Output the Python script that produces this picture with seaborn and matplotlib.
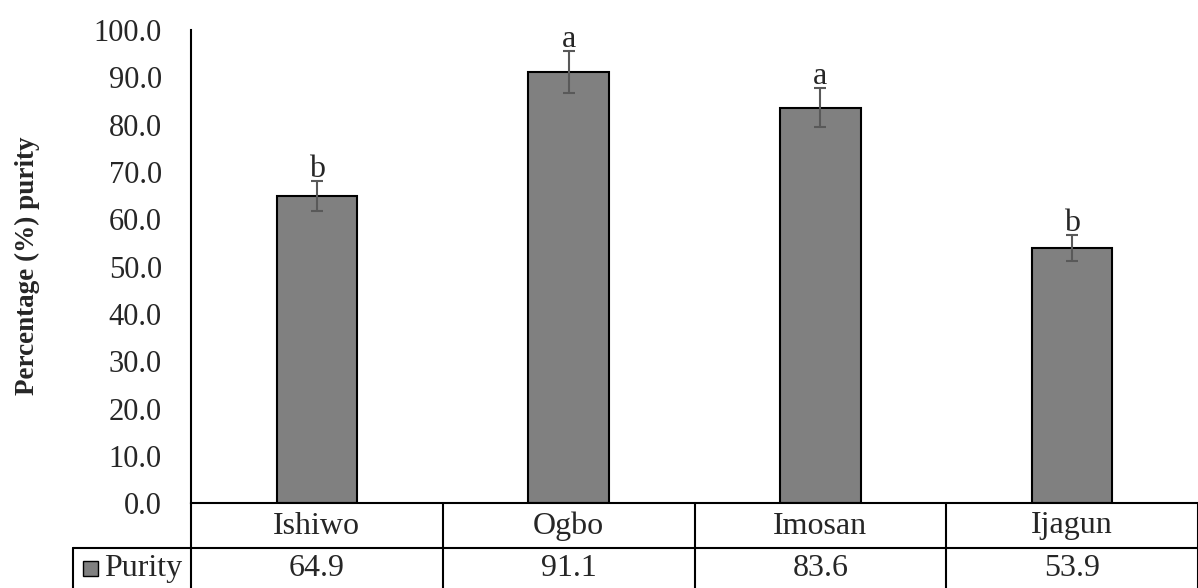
import matplotlib
matplotlib.use('Agg')
import matplotlib.pyplot as plt
import matplotlib.transforms as mtrans
from matplotlib.patches import Rectangle
import seaborn as sns

# data
sites = ['Ishiwo', 'Ogbo', 'Imosan', 'Ijagun']
purity = [64.9, 91.1, 83.6, 53.9]
purity_err = [3.2, 4.5, 4.1, 2.8]
letters = ['b', 'a', 'a', 'b']
yticks = [0, 10, 20, 30, 40, 50, 60, 70, 80, 90, 100]

W, H = 1198, 588
sns.set_style('white')
plt.rcParams['font.family'] = ['Liberation Serif', 'DejaVu Serif']

fig = plt.figure(figsize=(W / 100, H / 100), dpi=100)
ax = fig.add_axes([191 / W, 1 - 503.3 / H, (W - 191) / W, (503.3 - 30) / H])

sns.barplot(x=sites, y=purity, color='#808080', edgecolor='black',
            linewidth=1.5, width=0.32, saturation=1, ax=ax)
ax.errorbar(x=range(len(sites)), y=purity, yerr=purity_err, fmt='none',
            ecolor='#595959', elinewidth=1.5, capsize=4.3, capthick=1.5)

for i, (v, e, l) in enumerate(zip(purity, purity_err, letters)):
    ax.annotate(l, (i, v + e), xytext=(0, 3), textcoords='offset points',
                ha='center', va='baseline', fontsize=23)

ax.set_xlim(-0.5, len(sites) - 0.5)
ax.set_ylim(0, 100)
ax.set_yticks(yticks)
ax.set_yticklabels([f'{t:.1f}' for t in yticks], fontsize=22)
ax.tick_params(axis='y', length=0, pad=21)
ax.set_xticks([])
ax.set_xlabel('')
ax.set_ylabel('')
for s in ['top', 'right']:
    ax.spines[s].set_visible(False)
for s in ['left', 'bottom']:
    ax.spines[s].set_linewidth(1.5)
    ax.spines[s].set_color('black')

fig.text(27 / W, 1 - 266 / H, 'Percentage (%) purity', rotation=90,
         fontsize=19.5, fontweight='bold', ha='center', va='center')

# data table under the axis
fy = lambda p: 1 - p / H
trans = mtrans.blended_transform_factory(ax.transData, fig.transFigure)
for k in range(len(sites) + 1):
    ax.plot([k - 0.5, k - 0.5], [fy(503.3), fy(H)], color='black', lw=1.5,
            transform=trans, clip_on=False)
fig.add_artist(plt.Line2D([73 / W, 1], [fy(548.3), fy(548.3)], color='black',
                          lw=1.5, transform=fig.transFigure))
fig.add_artist(plt.Line2D([73 / W, 73 / W], [fy(548.3), 0], color='black',
                          lw=1.5, transform=fig.transFigure))
for i, (name, v) in enumerate(zip(sites, purity)):
    ax.text(i, fy(526), name, transform=trans, ha='center', va='center', fontsize=23)
    ax.text(i, fy(568.5), f'{v:.1f}', transform=trans, ha='center', va='center', fontsize=23)

fig.add_artist(Rectangle((83 / W, fy(576)), 15 / W, 15 / H, transform=fig.transFigure,
                         facecolor='#808080', edgecolor='black', lw=1))
fig.text(104 / W, fy(568.5), 'Purity', ha='left', va='center', fontsize=23)

fig.savefig('out.png', dpi=100)
